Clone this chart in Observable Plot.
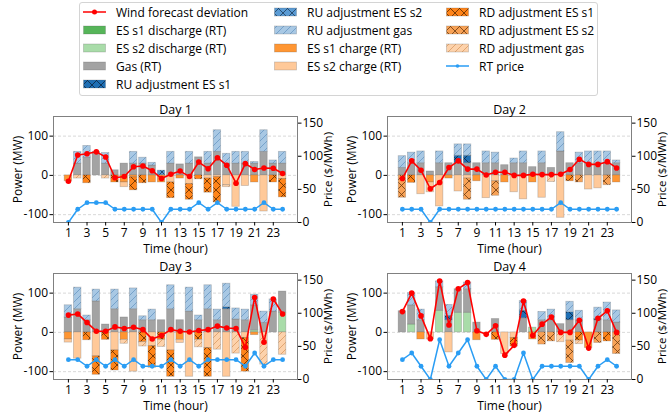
<!DOCTYPE html>
<html><head><meta charset="utf-8">
<script src="https://cdn.jsdelivr.net/npm/d3@7"></script>
<script src="https://cdn.jsdelivr.net/npm/@observablehq/plot@0.6"></script>
<style>
body{margin:0;background:#fff;font-family:"Open Sans",sans-serif;color:#000;}
#wrap{position:relative;width:668px;height:415px;overflow:hidden;}
.panel{position:absolute;}
#legend{position:absolute;left:79px;top:2px;width:517px;height:92px;border:1px solid #d4d4d4;border-radius:3px;font-size:12px;background:#fff;}
.item{position:absolute;display:flex;align-items:center;white-space:nowrap;height:16px;}
.item svg{margin-right:10px;}
</style></head>
<body>
<svg width="0" height="0" style="position:absolute">
<defs>
<pattern id="pRuS1" patternUnits="userSpaceOnUse" width="9" height="9"><rect width="9" height="9" fill="#1f6fb4"/><path d="M0,0L9,9M9,0L0,9" stroke="#0b2440" stroke-width="0.8"/></pattern>
<pattern id="pRuS2" patternUnits="userSpaceOnUse" width="9" height="9"><rect width="9" height="9" fill="#5a9bd4"/><path d="M0,0L9,9M9,0L0,9" stroke="#1d3b5a" stroke-width="0.8"/></pattern>
<pattern id="pRuGas" patternUnits="userSpaceOnUse" width="7" height="7"><rect width="7" height="7" fill="#a8c8e4"/><path d="M0,7L7,0M-1,1L1,-1M6,8L8,6" stroke="#6a98c4" stroke-width="0.8"/></pattern>
<pattern id="pRdS1" patternUnits="userSpaceOnUse" width="9" height="9"><rect width="9" height="9" fill="#ff8419"/><path d="M0,0L9,9M9,0L0,9" stroke="#5a2a00" stroke-width="0.8"/></pattern>
<pattern id="pRdS2" patternUnits="userSpaceOnUse" width="9" height="9"><rect width="9" height="9" fill="#f8a256"/><path d="M0,0L9,9M9,0L0,9" stroke="#6a3a10" stroke-width="0.8"/></pattern>
<pattern id="pRdGas" patternUnits="userSpaceOnUse" width="7" height="7"><rect width="7" height="7" fill="#fdd2ab"/><path d="M0,7L7,0M-1,1L1,-1M6,8L8,6" stroke="#d99a62" stroke-width="0.8"/></pattern>
</defs>
</svg>
<div id="wrap"><div id="legend"></div></div>
<script>
// ---------- data ----------
const hours = [1,2,3,4,5,6,7,8,9,10,11,12,13,14,15,16,17,18,19,20,21,22,23,24];
const dayTitles = ["Day 1","Day 2","Day 3","Day 4"];
const xTicks = [1,3,5,7,9,11,13,15,17,19,21,23];
const powerTicks = [-100,0,100];
const priceTicks = [0,50,100,150];

const esS1Dis = [
 [0,0,0,0,0,0,0,0,0,0,0,0,0,0,0,0,0,0,0,0,0,0,0,0],
 [0,0,0,0,0,0,0,0,0,0,0,0,0,0,0,0,0,0,0,0,0,0,0,0],
 [0,0,0,0,0,0,0,0,0,0,0,0,0,0,0,0,0,0,0,0,0,0,0,0],
 [0,0,0,0,0,0,0,0,0,0,0,0,0,0,0,0,0,0,0,0,0,0,0,0]];
const esS2Dis = [
 [0,0,0,0,0,0,0,0,0,0,0,0,0,0,0,0,0,0,0,0,0,0,0,0],
 [0,0,0,0,0,0,0,0,0,0,0,0,0,0,0,0,0,0,0,0,0,0,0,0],
 [0,0,0,0,0,0,0,0,0,0,0,0,0,0,0,0,0,0,0,0,5,0,0,50],
 [0,20,0,0,55,0,50,50,0,0,0,0,0,0,12,0,0,0,0,0,0,0,0,0]];
const gas = [
 [0,30,45,60,30,13,30,30,30,25,0,30,28,30,46,30,60,30,30,30,30,60,30,30],
 [19,31,31,10,31,31,31,31,31,31,31,26,31,31,21,31,19,61,31,31,31,31,31,31],
 [38,59,31,79,20,59,38,59,31,31,31,59,31,53,31,59,31,59,33,31,64,24,53,54],
 [54,49,31,0,60,31,60,60,25,0,34,0,0,36,0,31,31,21,31,31,0,31,31,25]];
const ruS1 = [
 [0,0,0,0,0,0,0,0,0,0,0,0,0,0,0,0,0,0,0,0,0,0,0,0],
 [0,0,0,0,0,0,19,19,0,0,0,0,0,0,0,0,0,0,0,0,0,0,0,0],
 [0,0,0,0,0,0,0,0,0,0,0,0,0,0,0,0,0,5,0,0,0,0,0,0],
 [0,0,0,0,0,11,0,0,0,0,0,0,0,19,0,0,0,0,20,0,0,3,0,0]];
const ruS2 = [
 [0,0,0,0,0,0,0,0,0,0,12,0,0,0,0,0,0,0,0,0,0,0,0,0],
 [0,0,0,0,0,0,0,0,0,0,0,0,0,0,0,0,0,0,0,0,0,0,0,0],
 [0,0,0,0,0,0,0,0,0,0,0,0,0,0,0,0,0,0,0,0,0,0,0,0],
 [0,0,0,0,0,0,0,0,0,0,0,0,0,0,0,0,0,0,0,0,0,0,0,0]];
const ruGas = [
 [0,30,30,0,27,0,0,30,15,7,0,30,0,30,0,30,55,25,30,30,4,55,8,30],
 [30,27,30,0,30,0,29,29,0,30,27,0,12,30,0,30,0,49,0,27,30,30,30,7],
 [31,55,12,30,0,50,0,53,10,27,0,61,0,61,12,61,27,60,28,27,27,29,31,0],
 [0,31,27,0,15,28,0,17,0,0,0,0,0,25,0,21,27,0,27,24,0,29,45,31]];
const esS1Ch = [
 [-15,0,0,0,0,0,-18,-5,0,-18,-18,0,-8,0,0,0,0,0,0,0,-18,0,0,0],
 [0,0,0,-18,0,-8,0,0,-15,0,0,-18,0,0,-18,0,0,0,0,0,0,0,0,-18],
 [-18,0,0,0,0,0,-19,0,0,0,0,0,-19,0,0,0,0,0,0,0,-7,0,0,0],
 [0,0,-18,0,0,0,0,0,-20,0,0,0,0,0,-18,0,0,0,0,0,-40,0,0,0]];
const esS2Ch = [
 [0,0,0,0,0,0,-12,0,0,0,0,-18,0,-22,0,-8,-4,-25,-80,-27,0,-92,0,-9],
 [0,0,-48,-25,-79,0,-41,-8,0,-58,-15,0,-43,-61,0,-57,0,-108,0,0,-36,-33,0,0],
 [-8,-67,0,-61,0,-46,0,-100,0,-35,0,-46,-8,-113,0,-40,0,-113,0,-14,0,0,0,0],
 [0,0,0,-18,0,-51,0,0,0,0,0,-55,-14,0,0,0,0,0,-21,0,0,0,0,0]];
const rdS1 = [
 [0,0,-20,0,0,-18,0,-33,-20,0,0,-40,0,-40,-10,-36,-65,0,0,0,0,0,-18,-47],
 [0,-19,0,0,0,0,0,0,0,0,0,0,0,0,0,0,0,0,-15,0,0,0,0,0],
 [0,0,-20,-47,-19,-51,0,0,-25,-55,-19,-67,0,0,-19,-73,0,0,0,-86,0,0,0,0],
 [0,0,0,0,0,0,0,0,0,0,-19,0,-22,0,0,0,0,0,0,-21,0,0,-23,0]];
const rdS2 = [
 [0,0,0,0,0,0,0,0,0,0,0,0,0,0,0,0,0,0,0,0,0,0,0,0],
 [-57,0,0,0,0,0,0,-54,0,0,-37,0,0,0,0,0,0,0,0,-18,0,0,-25,0],
 [0,0,0,0,0,0,0,0,0,0,0,0,0,0,0,0,0,0,0,0,0,0,0,0],
 [0,0,0,0,0,0,0,0,0,0,0,0,0,0,0,-31,-23,0,-57,0,0,-27,0,-55]];
const rdGas = [
 [0,-8,0,0,-8,0,0,0,0,0,0,0,0,0,0,0,0,-5,0,0,0,0,0,0],
 [0,0,0,0,0,0,0,0,0,0,0,0,0,0,0,0,-17,0,0,0,0,0,0,0],
 [0,0,0,0,0,0,-10,0,-11,0,-18,0,0,0,-19,0,-44,0,-54,0,0,-82,0,-57],
 [0,0,0,0,0,0,0,0,0,0,0,0,0,0,0,0,0,-25,0,-9,0,0,0,0]];
const wind = [
 [-15,52,55,60,47,-6,-3,22,24,12,-8,3,11,-3,34,17,45,26,-20,30,15,19,18,5],
 [-8,37,13,-34,-18,20,37,16,16,1,8,8,0,0,3,2,2,3,15,41,28,28,35,19],
 [44,47,25,3,3,14,10,13,7,-17,-8,7,3,1,5,7,16,11,10,-38,89,-25,85,47],
 [53,100,42,-16,131,19,111,127,4,-5,17,-58,-33,80,-8,21,39,0,0,31,-40,36,55,0]];
const price = [
 [0,20,30,30,30,20,20,20,20,20,0,20,20,20,30,20,30,20,20,20,20,30,20,20],
 [20,20,20,0,20,20,20,20,20,20,20,20,20,20,20,20,20,30,20,20,20,20,20,20],
 [30,30,20,30,20,30,20,30,20,20,20,30,20,30,20,30,30,30,30,20,40,20,30,30],
 [30,40,20,0,60,20,40,60,20,0,20,0,0,40,0,20,20,20,20,20,0,20,30,20]];

// ---------- styling ----------
const series = [
 {key:"esS1Dis", data:esS1Dis, sign:1, fill:"#56b559", label:"ES s1 discharge (RT)"},
 {key:"esS2Dis", data:esS2Dis, sign:1, fill:"#a9dca9", label:"ES s2 discharge (RT)"},
 {key:"gas", data:gas, sign:1, fill:"#a3a3a3", label:"Gas (RT)"},
 {key:"ruS1", data:ruS1, sign:1, fill:"url(#pRuS1)", label:"RU adjustment ES s1"},
 {key:"ruS2", data:ruS2, sign:1, fill:"url(#pRuS2)", label:"RU adjustment ES s2"},
 {key:"ruGas", data:ruGas, sign:1, fill:"url(#pRuGas)", label:"RU adjustment gas"},
 {key:"esS1Ch", data:esS1Ch, sign:-1, fill:"#ff9633", label:"ES s1 charge (RT)"},
 {key:"esS2Ch", data:esS2Ch, sign:-1, fill:"#ffc999", label:"ES s2 charge (RT)"},
 {key:"rdS1", data:rdS1, sign:-1, fill:"url(#pRdS1)", label:"RD adjustment ES s1"},
 {key:"rdS2", data:rdS2, sign:-1, fill:"url(#pRdS2)", label:"RD adjustment ES s2"},
 {key:"rdGas", data:rdGas, sign:-1, fill:"url(#pRdGas)", label:"RD adjustment gas"}
];
const windColor = "#ff0000", priceColor = "#2a9df4";
const yDomain = [-120, 150], priceDomain = [0, 160];
const p2y = p => yDomain[0] + (p - priceDomain[0]) * (yDomain[1]-yDomain[0])/(priceDomain[1]-priceDomain[0]);
const y2p = y => priceDomain[0] + (y - yDomain[0]) * (priceDomain[1]-priceDomain[0])/(yDomain[1]-yDomain[0]);

function buildRows(d) {
  const rows = [];
  hours.forEach((h, i) => {
    let top = 0, bot = 0;
    for (const s of series) {
      const v = s.data[d][i];
      if (!v) continue;
      if (s.sign > 0) { rows.push({key:s.key, hour:h, y1:top, y2:top+v}); top += v; }
      else { rows.push({key:s.key, hour:h, y1:bot, y2:bot+v}); bot += v; }
    }
  });
  return rows;
}

const positions = [{left:0, top:100},{left:334, top:100},{left:0, top:257},{left:334, top:257}];
const wrap = document.getElementById("wrap");

positions.forEach((pos, d) => {
  const rows = buildRows(d);
  const marks = [
    Plot.gridY(powerTicks, {stroke:"#cfcfcf", strokeOpacity:1, strokeDasharray:"3,2", strokeWidth:0.8})
  ];
  for (const s of series) {
    marks.push(Plot.rect(rows.filter(r => r.key === s.key), {
      x1: r => r.hour - 0.4, x2: r => r.hour + 0.4, y1: "y1", y2: "y2",
      fill: s.fill, stroke: "#555", strokeOpacity: 0.3, strokeWidth: 0.8
    }));
  }
  marks.push(
    Plot.line(hours, {x: h => h, y: (h, i) => p2y(price[d][i]), stroke: priceColor, strokeWidth: 1.5, clip: true}),
    Plot.dot(hours, {x: h => h, y: (h, i) => p2y(price[d][i]), r: 2.4, fill: priceColor, clip: true}),
    Plot.line(hours, {x: h => h, y: (h, i) => wind[d][i], stroke: windColor, strokeWidth: 1.6}),
    Plot.dot(hours, {x: h => h, y: (h, i) => wind[d][i], r: 2.8, fill: windColor}),
    Plot.frame({stroke: "#808080"}),
    Plot.axisX({ticks: xTicks, tickSize: 3.5, tickPadding: 2, label: "Time (hour)", labelAnchor: "center", labelArrow: "none", labelOffset: 30}),
    Plot.axisY({ticks: powerTicks, tickFormat: v => String(v), tickSize: 3.5, tickPadding: 2, label: "Power (MW)", labelAnchor: "center", labelArrow: "none", labelOffset: 40}),
    Plot.axisY({anchor: "right", ticks: priceTicks.map(p2y), tickFormat: v => String(Math.round(y2p(v))), tickSize: 3.5, tickPadding: 1.5, label: null}),
    Plot.text(["Price ($/MWh)"], {frameAnchor: "right", textAnchor: "middle", lineAnchor: "middle", rotate: -90, dx: 31, fontSize: 11.5, fill: "#000"}),
    Plot.text([dayTitles[d]], {frameAnchor: "top", lineAnchor: "bottom", dy: -3, fontSize: 12.5, fill: "#000"})
  );
  const chart = Plot.plot({
    width: 334, height: 155,
    marginLeft: 53, marginRight: 37, marginTop: 16, marginBottom: 33,
    x: {domain: [-0.6, 25.6]},
    y: {domain: yDomain},
    style: {fontFamily: "Open Sans", fontSize: "12px", color: "#000", background: "transparent", overflow: "visible"},
    marks
  });
  chart.classList.add("panel");
  chart.style.left = pos.left + "px";
  chart.style.top = pos.top + "px";
  wrap.appendChild(chart);
});

// ---------- legend ----------
const legend = document.getElementById("legend");
const legendCols = [
  [{type:"line", color:windColor, label:"Wind forecast deviation"}, series[0], series[1], series[2], series[3]],
  [series[4], series[5], series[6], series[7]],
  [series[8], series[9], series[10], {type:"line", color:priceColor, label:"RT price", r:1.8}]
];
const colX = [3, 194, 366];
const rowY = [9, 27, 45, 63, 81];
legendCols.forEach((col, c) => col.forEach((it, r) => {
  const div = document.createElement("div");
  div.className = "item";
  div.style.left = colX[c] + "px";
  div.style.top = (rowY[r] - 8) + "px";
  let sw;
  if (it.type === "line") {
    sw = `<svg width="23" height="16"><line x1="0" x2="23" y1="8" y2="8" stroke="${it.color}" stroke-width="1.5"/><circle cx="11.5" cy="8" r="${it.r||2.5}" fill="${it.color}"/></svg>`;
  } else {
    sw = `<svg width="23" height="16"><rect x="0.5" y="4" width="22" height="8" fill="${it.fill}" stroke="#555" stroke-opacity="0.3" stroke-width="0.8"/></svg>`;
  }
  div.innerHTML = sw + `<span>${it.label}</span>`;
  legend.appendChild(div);
}));
</script>
</body></html>
